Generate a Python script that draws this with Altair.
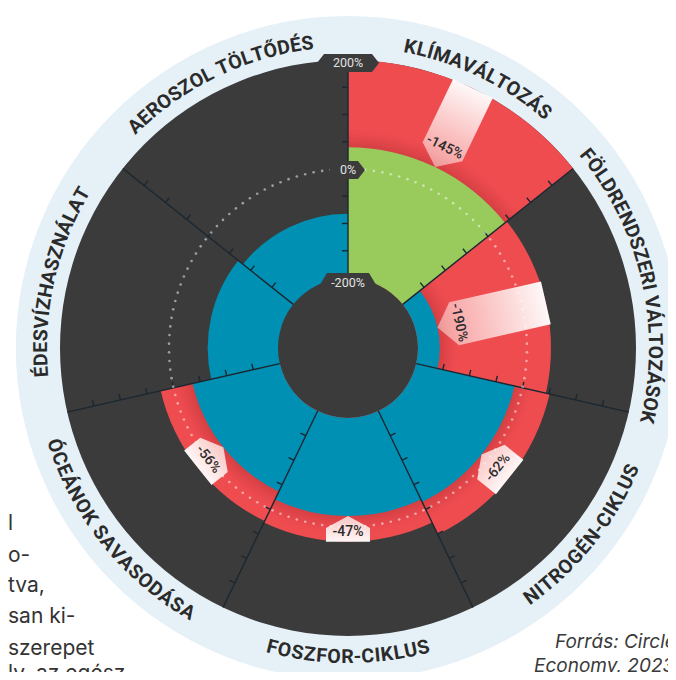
import math
import altair as alt
import pandas as pd

# ------------------------------------------------------------------ data
boundaries = ["KLÍMAVÁLTOZÁS", "FÖLDRENDSZERI VÁLTOZÁSOK", "NITROGÉN-CIKLUS",
              "FOSZFOR-CIKLUS", "ÓCEÁNOK SAVASODÁSA", "ÉDESVÍZHASZNÁLAT",
              "AEROSZOL TÖLTŐDÉS"]
inner_kind = ["green", "blue", "blue", "blue", "blue", "blue", "blue"]
inner_top = [40, -160, -15, -20, -36, -71, -82]          # % (scale -200 .. 200)
overshoot_top = [200, 44, 51, 27, 24, None, None]        # % red band top
gap_labels = ["-145%", "-190%", "-62%", "-47%", "-56%", None, None]
axis_values = [200, 0, -200]
axis_labels = ["200%", "0%", "-200%"]
tick_values = [-150, -100, -50, 0, 50, 100, 150]
paragraph_tail = ["l", "o-", "tva,", "san ki-", "szerepet", "ly, az egész"]
source_note = ["Forrás: Circle", "Economy, 2023"]

# ------------------------------------------------------------------ layout / style
W, H = 660, 664
CX, CY = 340, 340
R_LO, R_HI = 70, 288
PXU = (R_HI - R_LO) / 400.0
K = R_LO / PXU + 200
N = len(boundaries)

DARK = "#3b3b3b"
RED = "#ef4c50"
GREEN = "#98ca5c"
BLUE = "#0090b4"
RING = "#e5f0f7"
LINE = "#1b2731"
INK = "#2b2b2b"
KIND_COLOR = {"green": GREEN, "blue": BLUE}


def v_px(px):
    return px / PXU - K


def cart(v, a):
    t = a / N * 2 * math.pi
    R = v + K
    return R * math.sin(t), R * math.cos(t)


theta_scale = alt.Scale(domain=[0, N], range=[0, 2 * math.pi])
radius_scale = alt.Scale(type="linear", domain=[-200, 200], range=[R_LO, R_HI], zero=False)
x_scale = alt.Scale(domain=[-CX / PXU, (W - CX) / PXU], nice=False, zero=False)
y_scale = alt.Scale(domain=[-(H - CY) / PXU, CY / PXU], nice=False, zero=False)


def arc_layer(df, extra=None, **kw):
    enc = dict(
        theta=alt.Theta("a0:Q", scale=theta_scale),
        theta2=alt.Theta2("a1:Q"),
        radius=alt.Radius("v1:Q", scale=radius_scale),
        radius2=alt.Radius2("v0:Q"),
        color=alt.Color("c:N", scale=None),
        x=alt.value(CX),
        y=alt.value(CY),
    )
    if extra:
        enc.update(extra)
    return alt.Chart(df).mark_arc(**kw).encode(**enc)


def XY():
    return dict(x=alt.X("ux:Q", scale=x_scale, axis=None),
                y=alt.Y("uy:Q", scale=y_scale, axis=None))


# ------------------------------------------------------------------ discs
discs = pd.DataFrame([
    {"a0": 0, "a1": N, "v0": v_px(0.05), "v1": v_px(332), "c": RING},
    {"a0": 0, "a1": N, "v0": v_px(0.05), "v1": 200, "c": DARK},
])

# ------------------------------------------------------------------ sectors
red_rows, inner_rows, shade_rows = [], [], []
shade_op = [0.17, 0.13, 0.10, 0.07, 0.045, 0.025, 0.01]
step = 2.6 / PXU
for i in range(N):
    if overshoot_top[i] is not None:
        red_rows.append({"a0": i, "a1": i + 1, "v0": -200, "v1": overshoot_top[i], "c": RED})
        for k, o in enumerate(shade_op):
            shade_rows.append({"a0": i, "a1": i + 1, "v0": inner_top[i] + k * step,
                               "v1": inner_top[i] + (k + 1) * step, "c": "#5a0a10", "o": o})
    inner_rows.append({"a0": i, "a1": i + 1, "v0": -200, "v1": inner_top[i],
                       "c": KIND_COLOR[inner_kind[i]]})
red_df = pd.DataFrame(red_rows)
inner_df = pd.DataFrame(inner_rows)
shade_df = pd.DataFrame(shade_rows)

# ------------------------------------------------------------------ boundary lines + ticks
line_rows, tick_rows = [], []
tick_len = 6 / PXU
for k in range(N):
    x1, y1 = cart(-200, k)
    x2, y2 = cart(200, k)
    line_rows.append({"ux": x1, "uy": y1, "ux2": x2, "uy2": y2})
    t = k / N * 2 * math.pi
    if t < math.pi:
        d = (-math.cos(t), math.sin(t))
    else:
        d = (math.cos(t), -math.sin(t))
    for v in tick_values:
        sx, sy = cart(v, k)
        tick_rows.append({"ux": sx, "uy": sy, "ux2": sx + d[0] * tick_len, "uy2": sy + d[1] * tick_len})

# ------------------------------------------------------------------ dotted 0% circle
n_dots = 130
dots_df = pd.DataFrame([dict(zip(("ux", "uy"), cart(0, j * N / n_dots))) for j in range(n_dots)])


# ------------------------------------------------------------------ label boxes
def poly_path(pts):
    S = 2 * max(max(abs(x), abs(y)) for x, y in pts)
    f = 2.0 / S
    return ("M" + " L".join(f"{x * f:.4f},{y * f:.4f}" for x, y in pts) + " Z"), S * S


big_rows, small_rows, gtext_rows = [], [], []
for i in range(N):
    if gap_labels[i] is None:
        continue
    lo, hi = inner_top[i], overshoot_top[i]
    L = (hi - lo) * PXU
    Wd = 44
    tip = 17 if L > 60 else 12
    pts = [(-Wd / 2, -L / 2), (Wd / 2, -L / 2), (Wd / 2, L / 2 - tip), (0, L / 2), (-Wd / 2, L / 2 - tip)]
    path, size = poly_path(pts)
    a = i + 0.5
    deg = a / N * 360
    ux, uy = cart((lo + hi) / 2, a)
    row = {"ux": ux, "uy": uy, "path": path, "size": size, "rot": deg % 360}
    (big_rows if L > 60 else small_rows).append(row)
    if L > 60:
        tv = lo + 22 / PXU
    else:
        tv = (lo + hi) / 2 + 3 / PXU
    tx, ty = cart(tv, a)
    trot = deg if (deg < 90 or deg > 270) else deg - 180
    gtext_rows.append({"ux": tx, "uy": ty, "txt": gap_labels[i], "rot": trot % 360})


def grad(top, bottom):
    return {"gradient": "linear", "x1": 0, "y1": 0, "x2": 0, "y2": 1,
            "stops": [{"offset": 0, "color": top}, {"offset": 1, "color": bottom}]}


def box_layer(rows, g):
    return alt.Chart(pd.DataFrame(rows)).mark_point(
        filled=True, fill=g, strokeWidth=0, opacity=1
    ).encode(
        **XY(),
        shape=alt.Shape("path:N", scale=None),
        size=alt.Size("size:Q", scale=None),
        angle=alt.Angle("rot:Q", scale=None),
    )


big_boxes = box_layer(big_rows, grad("rgba(255,255,255,0.96)", "rgba(255,236,232,0.5)"))
small_boxes = box_layer(small_rows, grad("rgba(255,255,255,0.95)", "rgba(255,236,232,0.78)"))

gap_text = alt.Chart(pd.DataFrame(gtext_rows)).mark_text(
    font="Roboto", fontSize=14, fontWeight=500, color=INK, align="center", baseline="middle"
).encode(**XY(), text="txt:N", angle=alt.Angle("rot:Q", scale=None))

# ------------------------------------------------------------------ axis tags (200%, 0%, -200%)
tag_polys = {
    "200%": [(-31, 3), (-24, -6), (24, -6), (31, 3), (24, 12), (-24, 12)],
    "0%": [(-18, -8), (10, -8), (17, 1), (10, 10), (-18, 10)],
    "-200%": [(-30, 10), (-21, -5), (21, -5), (30, 10), (21, 16), (-21, 16)],
}
tag_dy = {"200%": 3, "0%": 1, "-200%": 5}
tag_layers = []
for v, lab in zip(axis_values, axis_labels):
    ux, uy = cart(v, 0)
    path, size = poly_path(tag_polys[lab])
    d = pd.DataFrame([{"ux": ux, "uy": uy, "path": path, "size": size, "lab": lab}])
    tag_layers.append(alt.Chart(d).mark_point(filled=True, color=DARK, strokeWidth=0, opacity=1).encode(
        **XY(), shape=alt.Shape("path:N", scale=None), size=alt.Size("size:Q", scale=None)))
    tag_layers.append(alt.Chart(d).mark_text(
        font="Roboto", fontSize=12.5, color="#e2e2e2", align="center", baseline="middle",
        dy=tag_dy[lab]).encode(**XY(), text="lab:N"))

# ------------------------------------------------------------------ curved boundary names
CW = {'A': .66, 'Á': .66, 'B': .63, 'C': .65, 'D': .64, 'E': .56, 'É': .56, 'F': .55,
      'G': .67, 'H': .70, 'I': .29, 'Í': .29, 'K': .63, 'L': .54, 'M': .86, 'N': .70,
      'O': .68, 'Ó': .68, 'Ö': .68, 'Ő': .68, 'R': .62, 'S': .61, 'T': .60, 'U': .64,
      'V': .65, 'Z': .60, '-': .34, ' ': .25}
FS = 19.5
LS = 0.6
R_GLYPH = 308
char_rows = []
for i, name in enumerate(boundaries):
    a_c = i + 0.5
    deg_c = a_c / N * 360
    top = deg_c < 90 or deg_c > 270
    rb = R_GLYPH - 7 if top else R_GLYPH + 7
    widths = [CW.get(ch, .65) * FS for ch in name]
    total = sum(widths) + LS * (len(name) - 1)
    pos = -total / 2
    for ch, w in zip(name, widths):
        s = pos + w / 2
        pos += w + LS
        if ch == " ":
            continue
        dd = math.degrees(s / R_GLYPH)
        deg = deg_c + dd if top else deg_c - dd
        rot = deg if top else deg - 180
        ux, uy = cart(v_px(rb), deg / 360 * N)
        char_rows.append({"ux": ux, "uy": uy, "ch": ch, "rot": rot % 360})
names_layer = alt.Chart(pd.DataFrame(char_rows)).mark_text(
    font="Roboto", fontSize=FS, fontWeight="bold", color=INK, align="center", baseline="alphabetic"
).encode(**XY(), text="ch:N", angle=alt.Angle("rot:Q", scale=None))

# ------------------------------------------------------------------ surrounding page text
para_left = [0, 0, 0, 0, 0, 0]
para_base = [522, 554, 584, 615, 647, 672]
text_layers = []
for t, xl, yb in zip(paragraph_tail, para_left, para_base):
    text_layers.append(alt.Chart(pd.DataFrame([{"t": t}])).mark_text(
        font="Inter", fontSize=21, color="#333333", align="left", baseline="alphabetic"
    ).encode(x=alt.value(xl), y=alt.value(yb), text="t:N"))
src_x = [547, 526]
src_y = [640, 664]
for t, xs, ys in zip(source_note, src_x, src_y):
    text_layers.append(alt.Chart(pd.DataFrame([{"t": t}])).mark_text(
        font="Inter", fontSize=19, fontStyle="italic", color="#3a3a3a", align="left", baseline="alphabetic"
    ).encode(x=alt.value(xs), y=alt.value(ys), text="t:N"))

# ------------------------------------------------------------------ assemble
layers = [
    arc_layer(discs),
    arc_layer(red_df),
    arc_layer(inner_df),
    arc_layer(shade_df, extra={"opacity": alt.Opacity("o:Q", scale=None)}),
    alt.Chart(pd.DataFrame(line_rows + tick_rows)).mark_rule(color=LINE, strokeWidth=1.4).encode(
        **XY(), x2="ux2:Q", y2="uy2:Q"),
    alt.Chart(dots_df).mark_point(filled=True, shape="circle", size=7, color="white",
                                  opacity=0.5, strokeWidth=0).encode(**XY()),
    big_boxes,
    small_boxes,
    gap_text,
] + tag_layers + [names_layer] + text_layers

chart = alt.layer(*layers).properties(
    width=W, height=H, autosize=alt.AutoSizeParams(type="none"), padding=0,
    background="white"
).configure_view(strokeWidth=0, stroke="transparent")

chart.save("out.html", embed_options={"renderer": "svg", "actions": False})
